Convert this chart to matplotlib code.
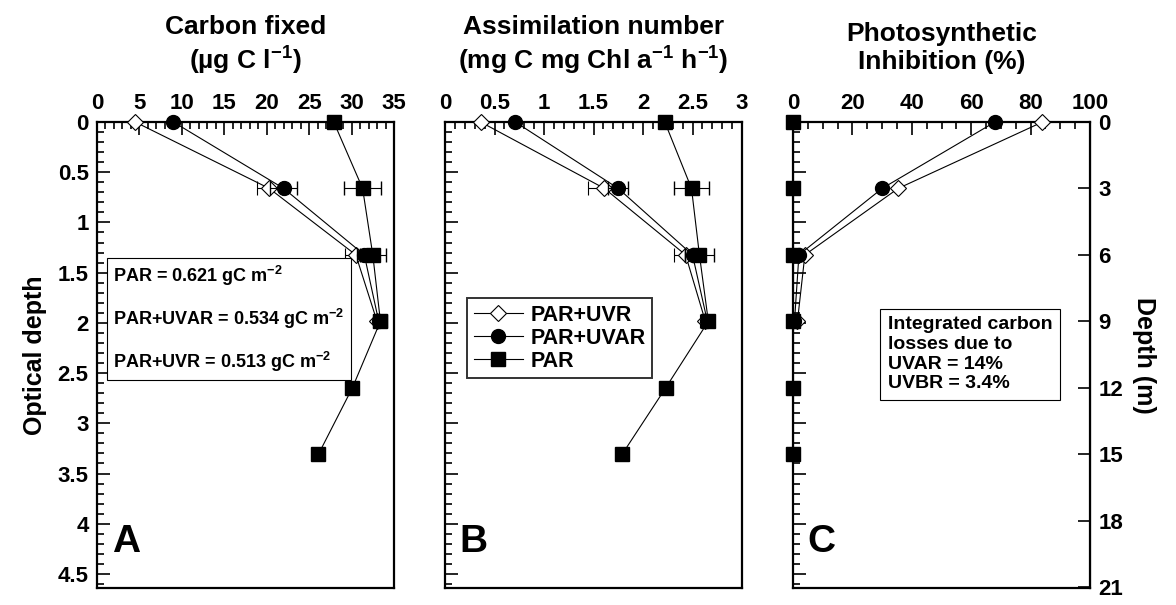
import numpy as np
import matplotlib
matplotlib.use("Agg")
import matplotlib.pyplot as plt
from matplotlib.ticker import MultipleLocator, FuncFormatter
from matplotlib.lines import Line2D

plt.rcParams['font.family'] = ['Liberation Sans', 'DejaVu Sans']
plt.rcParams['font.weight'] = 'bold'
plt.rcParams['mathtext.fontset'] = 'custom'
plt.rcParams['mathtext.rm'] = 'Liberation Sans:bold'
plt.rcParams['mathtext.bf'] = 'Liberation Sans:bold'
plt.rcParams['mathtext.default'] = 'bf'

# optical depth of the sampling depths (0, 3, 6, 9, 12, 15 m)
depth_m = [0, 3, 6, 9, 12, 15]
k_od = 0.2205  # optical depth per metre
od = [d * k_od for d in depth_m]
od_uv = od[:4]

# panel A: carbon fixed (ug C l-1)
carbon_uvr = [4.5, 20.3, 30.5, 33.0]
carbon_uvar = [9.0, 22.0, 31.5, 33.2]
carbon_par = [27.9, 31.3, 32.5, 33.4, 30.1, 26.1]
carbon_uvr_err = [0, 1.5, 1.3, 0.5]
carbon_uvar_err = [0, 1.6, 0.9, 0.6]
carbon_par_err = [0, 2.2, 1.5, 0.8, 0, 0]

# panel B: assimilation number
assim_uvr = [0.36, 1.61, 2.43, 2.63]
assim_uvar = [0.71, 1.75, 2.50, 2.65]
assim_par = [2.22, 2.49, 2.57, 2.66, 2.23, 1.79]
assim_uvr_err = [0, 0.17, 0.12, 0.05]
assim_uvar_err = [0, 0.10, 0.08, 0.05]
assim_par_err = [0, 0.18, 0.15, 0.06, 0, 0]

# panel C: photosynthetic inhibition (%)
inhib_uvr = [84, 35.4, 4, 1.5]
inhib_uvar = [68, 30, 2, 0.5]
inhib_par = [0, 0, 0, 0, 0, 0]

fig = plt.figure(figsize=(11.76, 6.05), dpi=100)
W, H = 1176, 605
top, bot = 122, 588
lefts = [97, 445, 793]
wid = 297
axes = [fig.add_axes([l / W, (H - bot) / H, wid / W, (bot - top) / H]) for l in lefts]

lw = 0.8
ms = 10
uvr_style = dict(color='black', lw=lw, marker='D', ms=8, mfc='white', mec='black', mew=0.8)
uvar_style = dict(color='black', lw=lw, marker='o', ms=ms, mfc='black', mec='black')
par_style = dict(color='black', lw=lw, marker='s', ms=ms, mfc='black', mec='black')


def plot_panel(ax, uvr, uvar, par, errs=None):
    e1, e2, e3 = errs if errs else (None, None, None)
    for x, y, e, st, z in [(uvr, od_uv, e1, uvr_style, 3),
                           (uvar, od_uv, e2, uvar_style, 4),
                           (par, od, e3, par_style, 5)]:
        lines = ax.errorbar(x, y, xerr=e, capsize=5, elinewidth=0.8, zorder=z, **st)
        for art in lines.lines[0:1] + tuple(lines.lines[1]) + tuple(lines.lines[2]):
            art.set_clip_on(False)


plot_panel(axes[0], carbon_uvr, carbon_uvar, carbon_par,
           (carbon_uvr_err, carbon_uvar_err, carbon_par_err))
plot_panel(axes[1], assim_uvr, assim_uvar, assim_par,
           (assim_uvr_err, assim_uvar_err, assim_par_err))
plot_panel(axes[2], inhib_uvr, inhib_uvar, inhib_par)

xlims = [(0, 35), (0, 3), (0, 100)]
xmaj = [5, 0.5, 20]
xmin = [1, 0.1, 5]
titles = ["Carbon fixed\n(µg C l$^{-1}$)",
          "Assimilation number\n(mg C mg Chl a$^{-1}$ h$^{-1}$)",
          "Photosynthetic\nInhibition (%)"]
fmt = FuncFormatter(lambda v, p: f"{v:g}")

for i, ax in enumerate(axes):
    ax.set_xlim(*xlims[i])
    ax.set_ylim(4.64, 0)
    ax.xaxis.tick_top()
    ax.xaxis.set_major_locator(MultipleLocator(xmaj[i]))
    ax.xaxis.set_minor_locator(MultipleLocator(xmin[i]))
    ax.yaxis.set_major_locator(MultipleLocator(0.5))
    ax.yaxis.set_minor_locator(MultipleLocator(0.1))
    ax.xaxis.set_major_formatter(fmt)
    ax.yaxis.set_major_formatter(fmt)
    ax.tick_params(which='both', direction='in', labelsize=16, width=1.2)
    ax.tick_params(which='major', length=9, pad=6)
    ax.tick_params(which='minor', length=5)
    ax.tick_params(axis='y', right=False)
    for sp in ax.spines.values():
        sp.set_linewidth(1.6)
    ax.set_title(titles[i], fontsize=19, fontweight='bold', pad=38, linespacing=1.2)
    if i > 0:
        ax.tick_params(axis='y', labelleft=False)
    for lab in ax.get_xticklabels() + ax.get_yticklabels():
        lab.set_fontweight('bold')

axes[0].set_ylabel("Optical depth", fontsize=18, fontweight='bold', labelpad=8)

# right axis with depth in metres on panel C
sec = axes[2].secondary_yaxis('right', functions=(lambda x: x / k_od, lambda m: m * k_od))
sec.set_yticks([0, 3, 6, 9, 12, 15, 18, 21])
sec.tick_params(direction='in', length=9, width=1.2, labelsize=16, pad=6)
sec.set_ylabel("Depth (m)", fontsize=18, fontweight='bold', rotation=270, labelpad=24)
for lab in sec.get_yticklabels():
    lab.set_fontweight('bold')

# panel letters
for ax, letter in zip(axes, "ABC"):
    ax.text(0.05, 0.06, letter, transform=ax.transAxes, fontsize=28,
            fontweight='bold', ha='left', va='bottom')

# integrated production box in panel A
axes[0].text(0.055, 0.46,
             "PAR = 0.621 gC m$^{-2}$\n\nPAR+UVAR = 0.534 gC m$^{-2}$\n\nPAR+UVR = 0.513 gC m$^{-2}$",
             transform=axes[0].transAxes, fontsize=13, fontweight='bold',
             ha='left', va='bottom', linespacing=1.05,
             bbox=dict(boxstyle='square,pad=0.35', fc='white', ec='black', lw=0.8))

# legend in panel B
handles = [Line2D([], [], **uvr_style), Line2D([], [], **uvar_style), Line2D([], [], **par_style)]
leg = axes[1].legend(handles, ['PAR+UVR', 'PAR+UVAR', 'PAR'], loc='lower left',
                     bbox_to_anchor=(0.075, 0.45), fontsize=15.5,
                     frameon=True, fancybox=False, edgecolor='black',
                     handlelength=2.3, borderpad=0.3, labelspacing=0.1,
                     handletextpad=0.35, borderaxespad=0)
leg.get_frame().set_linewidth(1.4)
for t in leg.get_texts():
    t.set_fontweight('bold')

# carbon loss box in panel C
axes[2].text(0.32, 0.42,
             "Integrated carbon\nlosses due to\nUVAR = 14%\nUVBR = 3.4%",
             transform=axes[2].transAxes, fontsize=14, fontweight='bold',
             ha='left', va='bottom', linespacing=1.2,
             bbox=dict(boxstyle='square,pad=0.4', fc='white', ec='black', lw=0.8))

fig.savefig("out.png", dpi=100, facecolor='white')
